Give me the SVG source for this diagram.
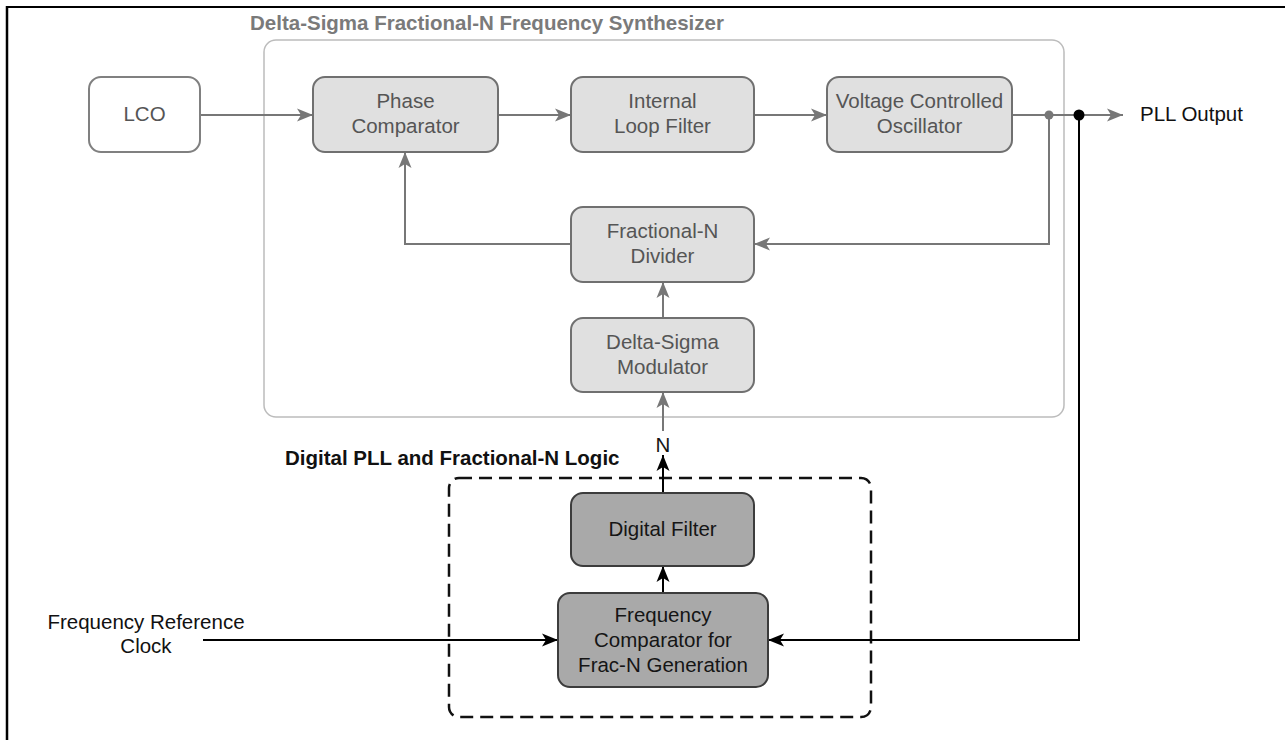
<svg xmlns="http://www.w3.org/2000/svg" width="1285" height="740" viewBox="0 0 1285 740">
  <style>
    text { font-family: "Liberation Sans", Arial, sans-serif; font-size: 20.5px; }
    .lt { fill: #555555; text-anchor: middle; }
    .dt { fill: #151515; text-anchor: middle; }
    .lbox { fill: #e0e0e0; stroke: #707070; stroke-width: 2; }
    .dbox { fill: #a9a9a9; stroke: #3c3c3c; stroke-width: 2; }
    .wbox { fill: #ffffff; stroke: #808080; stroke-width: 2; }
    .gl { fill: none; stroke: #777777; stroke-width: 2; }
    .bl { fill: none; stroke: #000000; stroke-width: 2; }
  </style>
  <defs>
    <marker id="ag" markerUnits="userSpaceOnUse" markerWidth="17" markerHeight="15" refX="16" refY="7.5" orient="auto">
      <path d="M0,1 L16,7.5 L0,14 L4,7.5 Z" fill="#777777"/>
    </marker>
    <marker id="ab" markerUnits="userSpaceOnUse" markerWidth="17" markerHeight="15" refX="16" refY="7.5" orient="auto">
      <path d="M0,1 L16,7.5 L0,14 L4,7.5 Z" fill="#000000"/>
    </marker>
  </defs>
  <rect width="1285" height="740" fill="#ffffff"/>
  <g id="frame">
    <line x1="6" y1="7" x2="1285" y2="7" stroke="#000" stroke-width="2"/>
    <line x1="7" y1="6" x2="7" y2="740" stroke="#000" stroke-width="2.5"/>
  </g>

  <g id="synth-container">
    <rect x="264" y="40" width="800" height="377" rx="12" fill="none" stroke="#bcbcbc" stroke-width="1.5"/>
    <text x="250" y="30" font-weight="bold" fill="#7a7a7a">Delta-Sigma Fractional-N Frequency Synthesizer</text>
  </g>

  <g id="digital-container">
    <rect x="449" y="478" width="422" height="239" rx="10" fill="none" stroke="#111111" stroke-width="2.5" stroke-dasharray="13,7"/>
    <text x="285" y="465" font-weight="bold" fill="#111111">Digital PLL and Fractional-N Logic</text>
  </g>

  <g id="connectors">
    <line class="gl" x1="200" y1="115" x2="313" y2="115" marker-end="url(#ag)"/>
    <line class="gl" x1="498" y1="115" x2="571" y2="115" marker-end="url(#ag)"/>
    <line class="gl" x1="754" y1="115" x2="827" y2="115" marker-end="url(#ag)"/>
    <line class="gl" x1="1012" y1="115" x2="1123" y2="115" marker-end="url(#ag)"/>
    <polyline class="gl" points="1049,115 1049,244 754,244" marker-end="url(#ag)"/>
    <polyline class="gl" points="571,244 405,244 405,152" marker-end="url(#ag)"/>
    <line class="gl" x1="663" y1="318" x2="663" y2="282" marker-end="url(#ag)"/>
    <line class="gl" x1="663" y1="431" x2="663" y2="392" marker-end="url(#ag)"/>
    <line class="bl" x1="663" y1="493" x2="663" y2="455" marker-end="url(#ab)"/>
    <line class="bl" x1="663" y1="593" x2="663" y2="566" marker-end="url(#ab)"/>
    <line class="bl" x1="203" y1="640" x2="558" y2="640" marker-end="url(#ab)"/>
    <polyline class="bl" points="1079,115 1079,640 768,640" marker-end="url(#ab)"/>
    <circle cx="1049" cy="115" r="4.5" fill="#777777"/>
    <circle cx="1079" cy="115" r="5.5" fill="#000000"/>
    <text x="663" y="452" class="dt" fill="#222">N</text>
  </g>

  <g id="lco">
    <rect class="wbox" x="89" y="77" width="111" height="75" rx="12"/>
    <text class="lt" x="144.5" y="121">LCO</text>
  </g>
  <g id="phase-comparator">
    <rect class="lbox" x="313" y="77" width="185" height="75" rx="12"/>
    <text class="lt" x="405.5" y="108">Phase</text>
    <text class="lt" x="405.5" y="133">Comparator</text>
  </g>
  <g id="internal-loop-filter">
    <rect class="lbox" x="571" y="77" width="183" height="75" rx="12"/>
    <text class="lt" x="662.5" y="108">Internal</text>
    <text class="lt" x="662.5" y="133">Loop Filter</text>
  </g>
  <g id="vco">
    <rect class="lbox" x="827" y="77" width="185" height="75" rx="12"/>
    <text class="lt" x="919.5" y="108">Voltage Controlled</text>
    <text class="lt" x="919.5" y="133">Oscillator</text>
  </g>
  <g id="fractional-n-divider">
    <rect class="lbox" x="571" y="207" width="183" height="75" rx="12"/>
    <text class="lt" x="662.5" y="238">Fractional-N</text>
    <text class="lt" x="662.5" y="263">Divider</text>
  </g>
  <g id="delta-sigma-modulator">
    <rect class="lbox" x="571" y="318" width="183" height="74" rx="12"/>
    <text class="lt" x="662.5" y="349">Delta-Sigma</text>
    <text class="lt" x="662.5" y="374">Modulator</text>
  </g>
  <g id="digital-filter">
    <rect class="dbox" x="571" y="493" width="183" height="73" rx="12"/>
    <text class="dt" x="662.5" y="536">Digital Filter</text>
  </g>
  <g id="frequency-comparator">
    <rect class="dbox" x="558" y="593" width="210" height="94" rx="12"/>
    <text class="dt" x="663" y="622">Frequency</text>
    <text class="dt" x="663" y="647">Comparator for</text>
    <text class="dt" x="663" y="672">Frac-N Generation</text>
  </g>
  <g id="pll-output">
    <text x="1140" y="121" fill="#111111">PLL Output</text>
  </g>
  <g id="freq-ref-clock">
    <text x="146" y="629" fill="#111111" text-anchor="middle">Frequency Reference</text>
    <text x="146" y="653" fill="#111111" text-anchor="middle">Clock</text>
  </g>
</svg>
